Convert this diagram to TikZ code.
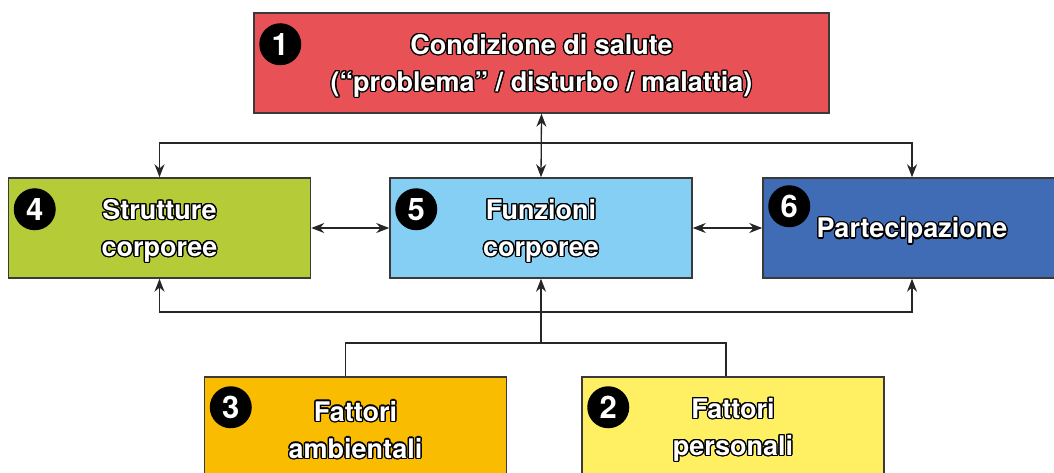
\documentclass[tikz,border=0pt]{standalone}
\usepackage{fontspec}
\setmainfont{TeX Gyre Heros}
\usepackage{contour}
\contourlength{1.3pt}
\usetikzlibrary{arrows.meta,positioning}
\definecolor{rosso}{HTML}{E85257}
\definecolor{verde}{HTML}{B5CC38}
\definecolor{celeste}{HTML}{84CFF3}
\definecolor{blu}{HTML}{3F6CB4}
\definecolor{arancio}{HTML}{F9BC00}
\definecolor{giallo}{HTML}{FEF062}
\definecolor{bordo}{HTML}{3A3A3A}
\newcommand{\ol}[1]{\raisebox{-3.5pt}[\height][\depth]{\contour{black}{#1}}}
\tikzset{
    box/.style={draw=bordo, line width=1.5pt, minimum width=302pt, minimum height=100pt,
        inner sep=0pt, align=center, text=white, font=\fontsize{27}{37}\selectfont\bfseries},
    num/.style={circle, fill=black, minimum size=42pt, inner sep=0pt, text=white,
        font=\fontsize{31}{31}\selectfont\bfseries},
    link/.style={line width=1.3pt, draw=black!85},
    tip/.style={-{Stealth[length=13pt,width=10pt]}},
    tips/.style={{Stealth[length=13pt,width=10pt]}-{Stealth[length=13pt,width=10pt]}}
}
\begin{document}
\begin{tikzpicture}[x=1pt, y=-1pt]
    \useasboundingbox (0,0) rectangle (1054,473);
    % boxes
    \node[box, fill=rosso, minimum width=575pt] (b1) at (541.5,63)
        {\ol{Condizione di salute}\\\ol{(“problema” / disturbo / malattia)}};
    \node[box, fill=verde] (b4) at (159.5,228) {\ol{Strutture}\\\ol{corporee}};
    \node[box, fill=celeste] (b5) at (541,228) {\ol{Funzioni}\\\ol{corporee}};
    \node[box, fill=blu, minimum width=298pt] (b6) at (912,228) {\ol{Partecipazione}};
    \node[box, fill=arancio] (b3) at (355.5,427) {\ol{Fattori}\\\ol{ambientali}};
    \node[box, fill=giallo] (b2) at (733,427) {\ol{Fattori}\\\ol{personali}};
    % numbers
    \node[num] (n1) at ([xshift=27pt,yshift=-32pt]b1.north west) {1};
    \node[num] (n4) at ([xshift=27pt,yshift=-32pt]b4.north west) {4};
    \node[num] (n5) at ([xshift=27pt,yshift=-32pt]b5.north west) {5};
    \node[num] (n6) at ([xshift=27pt,yshift=-29pt]b6.north west) {6};
    \node[num] (n3) at ([xshift=27pt,yshift=-31pt]b3.north west) {3};
    \node[num] (n2) at ([xshift=27pt,yshift=-31pt]b2.north west) {2};
    % connectors
    \coordinate (alto) at (541,143);
    \coordinate (basso) at (541,312);
    \coordinate (fattori) at (541,343);
    \draw[link, tips] (b1.south) -- (b5.north);
    \draw[link, tip] (alto) -| (b4.north);
    \draw[link, tip] (alto) -| (b6.north);
    \draw[link, tips] (b4.east) -- (b5.west);
    \draw[link, tips] (b5.east) -- (b6.west);
    \draw[link, tip] (basso) -| (b4.south);
    \draw[link, tip] (basso) -| (b6.south);
    \draw[link, tip] (fattori) -- (b5.south);
    \draw[link] ([xshift=-10pt]b3.north) |- (fattori) -| ([xshift=-7pt]b2.north);
\end{tikzpicture}
\end{document}
